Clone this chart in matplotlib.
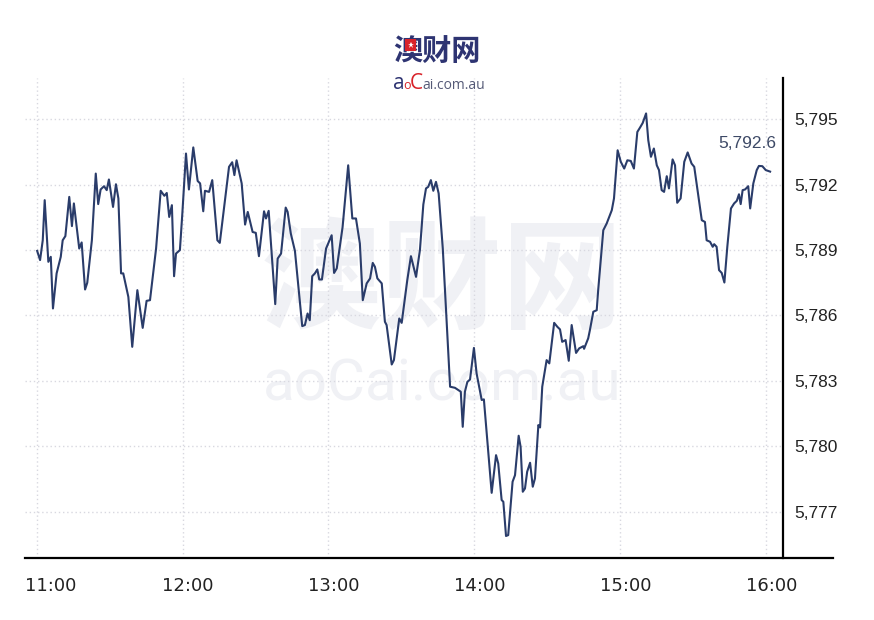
import matplotlib
matplotlib.use("Agg")
import matplotlib.pyplot as plt
from matplotlib.transforms import ScaledTranslation
from matplotlib.patches import Rectangle
from matplotlib.lines import Line2D

# minutes after 11:00 and index level
minutes = [0.2, 1.4, 2.5, 3.3, 4.8, 5.8, 6.7, 8.2, 9.9, 10.7, 11.8, 13.4, 14.5, 15.3, 17.5, 18.5,
           19.9, 20.8, 22.7, 24.3, 25.3, 26.3, 27.7, 28.8, 29.7, 31.4, 32.6, 33.6, 34.7, 35.6,
           37.7, 39.3, 41.4, 43.6, 45.2, 46.6, 49.1, 51.0, 52.5, 53.5, 54.5, 55.6, 56.5, 57.3,
           58.9, 59.9, 61.4, 62.6, 64.4, 66.2, 67.2, 68.5, 69.2, 70.9, 72.2, 74.3, 75.3, 79.1,
           80.4, 81.3, 82.2, 84.3, 85.7, 86.8, 88.8, 90.1, 91.4, 93.5, 94.3, 95.4, 98.1, 99.1,
           100.5, 102.4, 103.2, 104.5, 106.2, 109.2, 110.3, 111.4, 112.3, 113.3, 114.4, 115.4,
           116.2, 117.3, 119.0, 121.3, 122.3, 123.4, 125.8, 128.1, 129.8, 131.3, 132.9, 134.1,
           135.7, 137.1, 138.2, 139.1, 140.1, 141.9, 143.2, 143.9, 146.0, 146.9, 149.1, 150.1,
           152.4, 153.9, 154.9, 156.0, 157.6, 159.0, 160.1, 161.0, 162.1, 163.1, 164.2, 165.3,
           167.0, 170.0, 172.0, 174.4, 175.2, 176.1, 177.1, 178.2, 179.8, 180.9, 183.0, 183.9,
           187.1, 188.9, 189.8, 191.2, 191.9, 193.0, 193.9, 195.7, 196.7, 198.2, 199.0, 199.9,
           200.8, 201.7, 202.9, 204.0, 204.9, 206.3, 207.0, 207.9, 209.7, 210.8, 212.8, 214.1,
           215.2, 216.1, 217.5, 218.8, 220.0, 221.8, 223.1, 224.8, 225.1, 226.8, 227.5, 228.9,
           230.3, 230.9, 233.0, 234.4, 236.5, 237.4, 238.9, 240.2, 241.6, 242.9, 244.3, 245.6,
           247.0, 248.1, 249.2, 250.6, 251.5, 252.6, 253.8, 255.0, 255.9, 257.0, 258.0, 259.1,
           260.0, 261.5, 262.5, 263.4, 264.8, 266.3, 267.7, 269.3, 270.4, 273.5, 274.8, 275.5,
           276.9, 278.0, 278.6, 279.6, 280.6, 281.7, 282.8, 284.0, 285.5, 286.8, 287.9, 288.8,
           289.5, 290.3, 291.3, 292.6, 293.4, 294.7, 296.1, 297.0, 298.4, 299.8, 301.6]
values = [5788.96, 5788.54, 5789.45, 5791.29, 5788.46, 5788.69, 5786.32, 5787.93, 5788.69, 5789.45,
          5789.64, 5791.44, 5790.10, 5791.14, 5789.07, 5789.35, 5787.19, 5787.50, 5789.45, 5792.51,
          5791.11, 5791.78, 5791.93, 5791.75, 5792.24, 5790.98, 5792.02, 5791.37, 5787.93, 5787.93,
          5786.85, 5784.56, 5787.16, 5785.43, 5786.67, 5786.70, 5789.07, 5791.72, 5791.49, 5791.62,
          5790.52, 5791.06, 5787.80, 5788.84, 5789.00, 5790.68, 5793.43, 5791.78, 5793.71, 5792.17,
          5792.06, 5790.78, 5791.72, 5791.67, 5792.21, 5789.45, 5789.33, 5792.82, 5793.03, 5792.44,
          5793.12, 5792.06, 5790.17, 5790.75, 5789.83, 5789.79, 5788.72, 5790.78, 5790.45, 5790.80,
          5786.52, 5788.61, 5788.84, 5790.95, 5790.75, 5789.76, 5788.96, 5785.51, 5785.56, 5786.09,
          5785.78, 5787.80, 5787.93, 5788.11, 5787.65, 5787.65, 5789.07, 5789.68, 5787.95, 5788.16,
          5790.06, 5792.89, 5790.45, 5790.45, 5789.30, 5786.70, 5787.47, 5787.70, 5788.41, 5788.23,
          5787.70, 5787.47, 5785.71, 5785.56, 5783.75, 5783.95, 5785.86, 5785.66, 5787.62, 5788.72,
          5788.26, 5787.77, 5789.00, 5791.09, 5791.83, 5791.90, 5792.21, 5791.72, 5792.13, 5791.60,
          5789.07, 5782.73, 5782.68, 5782.50, 5780.89, 5782.50, 5782.95, 5783.06, 5784.51, 5783.34,
          5782.12, 5782.15, 5777.86, 5779.59, 5779.21, 5777.53, 5777.45, 5775.88, 5775.92, 5778.37,
          5778.67, 5780.48, 5779.97, 5777.91, 5778.06, 5778.83, 5779.24, 5778.14, 5778.52, 5780.97,
          5780.86, 5782.73, 5783.95, 5783.80, 5785.66, 5785.48, 5785.36, 5784.79, 5784.87, 5783.92,
          5785.56, 5784.28, 5784.49, 5784.59, 5784.47, 5784.95, 5785.33, 5786.17, 5786.24, 5787.16,
          5789.91, 5790.22, 5790.83, 5791.37, 5793.58, 5793.05, 5792.74, 5793.12, 5793.09, 5792.74,
          5794.42, 5794.62, 5794.83, 5795.27, 5794.04, 5793.28, 5793.66, 5792.89, 5792.67, 5791.75,
          5791.67, 5792.39, 5791.83, 5793.16, 5792.89, 5791.17, 5791.37, 5793.05, 5793.48, 5792.97,
          5792.82, 5790.37, 5790.29, 5789.45, 5789.38, 5789.15, 5789.27, 5789.15, 5788.08, 5787.95,
          5787.51, 5789.15, 5790.91, 5791.14, 5791.26, 5791.56, 5791.11, 5791.75, 5791.78, 5791.93,
          5790.91, 5792.06, 5792.67, 5792.86, 5792.85, 5792.67, 5792.60]

hour_ticks = [0, 60, 120, 180, 240, 300]
hour_labels = ["11:00", "12:00", "13:00", "14:00", "15:00", "16:00"]
level_ticks = [5777, 5780, 5783, 5786, 5789, 5792, 5795]
level_labels = ["5,777", "5,780", "5,783", "5,786", "5,789", "5,792", "5,795"]
last_label = "5,792.6"

LINE = "#2a3c6a"
NAVY = "#2e3472"
RED = "#d8232a"
GRID = "#d8d8e0"
MARK = "#f0f1f5"

fig = plt.figure(figsize=(8.74, 6.2), dpi=100)
ax = fig.add_axes([25 / 874, 0.1, 758 / 874, 0.774])

# watermark behind the line
ax.text(0.55, 0.57, "澳财网", transform=ax.transAxes, ha="center", va="center",
        fontsize=87, fontweight="bold", color=MARK, family=["Noto Sans CJK SC", "DejaVu Sans"], zorder=0)
ax.text(0.55, 0.36, "aoCai.com.au", transform=ax.transAxes, ha="center", va="center",
        fontsize=42, color=MARK, family="Roboto", zorder=0)

ax.plot(minutes, values, color=LINE, lw=1.5, zorder=3)
ax.annotate(last_label, xy=(minutes[-1], values[-1]), xytext=(6, 28), textcoords="offset pixels",
            ha="right", va="center", fontsize=12.5, color="#3d4966", family="Liberation Sans")

ax.set_xlim(-4.8, 306.9)
ax.set_ylim(5774.87, 5796.89)
ax.set_xticks(hour_ticks)
ax.set_xticklabels(hour_labels)
ax.set_yticks(level_ticks)
ax.set_yticklabels(level_labels)
ax.yaxis.tick_right()
ax.tick_params(axis="y", length=0, pad=8, labelsize=12.5, labelcolor="#222222")
ax.tick_params(axis="x", length=0, pad=14, labelsize=13, labelcolor="#222222")
for lab in ax.get_yticklabels():
    lab.set_family("Liberation Sans")
for i, lab in enumerate(ax.get_xticklabels()):
    lab.set_family("DejaVu Sans")
    dx = 14 if i == 0 else 5
    lab.set_transform(lab.get_transform() + ScaledTranslation(dx / 100, 0, fig.dpi_scale_trans))

ax.grid(True, color=GRID, linestyle=(0, (1, 2)), lw=1)
for s in ["top", "left", "bottom"]:
    ax.spines[s].set_visible(False)
ax.spines["right"].set_color("black")
ax.spines["right"].set_linewidth(1.6)
ax.plot([0, 808 / 758], [0, 0], transform=ax.transAxes, color="black", lw=1.6, clip_on=False, zorder=4)

# logo
fig.text(437 / 874, 1 - 51 / 620, "澳财网", ha="center", va="center", fontsize=21, fontweight="bold",
         color=NAVY, family=["Noto Sans CJK SC", "DejaVu Sans"])
fig.add_artist(Rectangle((405 / 874, 1 - 51 / 620), 11 / 874, 12 / 620, transform=fig.transFigure,
                         facecolor=RED, edgecolor="none", zorder=10))
fig.add_artist(Line2D([410.5 / 874], [1 - 45 / 620], transform=fig.transFigure, marker="*",
                      markersize=5, color="white", markeredgewidth=0, zorder=11))
fig.text(393 / 874, 1 - 89 / 620, "a", ha="left", va="baseline", fontsize=15, color=NAVY, family="Open Sans")
fig.text(403 / 874, 1 - 89 / 620, "o", ha="left", va="baseline", fontsize=9, color=RED, family="Open Sans")
fig.text(410 / 874, 1 - 89 / 620, "C", ha="left", va="baseline", fontsize=15, color=RED, family="Open Sans")
fig.text(422 / 874, 1 - 89 / 620, "ai.com.au", ha="left", va="baseline", fontsize=10, color="#555a77", family="Open Sans")

fig.savefig("out.png", dpi=100, facecolor="white")
